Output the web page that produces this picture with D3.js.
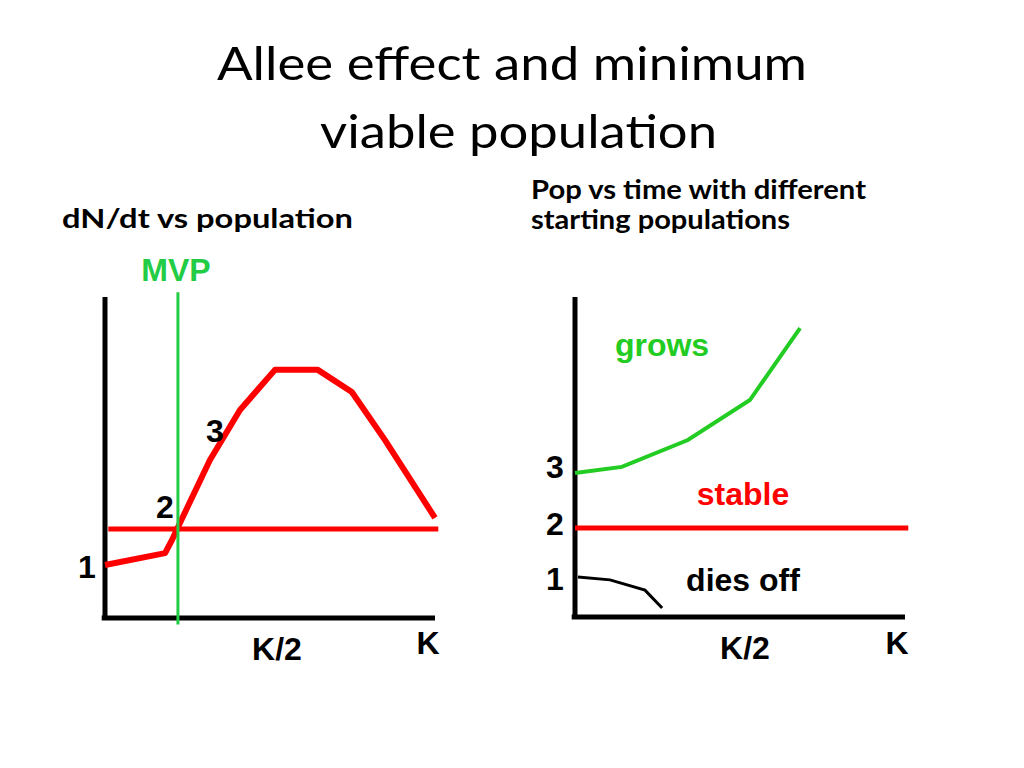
<!DOCTYPE html>
<html><head><meta charset="utf-8">
<script src="https://cdn.jsdelivr.net/npm/d3@7"></script>
<style>body{margin:0;background:#fff}</style>
</head><body>
<svg id="chart" width="1024" height="768"></svg>
<script>
// left panel: dN/dt vs population (x: population 0..100 = K, y: rate)
let rateX = [0, 18.2, 20.3, 22.1, 31.8, 40.9, 51.5, 64.5, 74.8, 84.8, 100];
let rateY = [16.5, 20.2, 24.3, 28.3, 49.2, 64.8, 77.3, 77.3, 70.4, 55.5, 31.2];
let rateZero = 27.7;
let mvpX = 22.1;
// right panel: population vs time
let growsT = [0, 14.2, 34.2, 53, 68.2];
let growsN = [45, 46.9, 55.3, 67.8, 90.3];
let stableN = 27.8;
let diesT = [0.9, 10.6, 21.2, 26.4];
let diesN = [12.5, 11.6, 8.4, 2.8];

let svg = d3.select('#chart');
let font = 'Liberation Sans, Arial, sans-serif';
let titleFont = 'Lato, Open Sans, sans-serif';

function heading(x, y, t, size, weight, len) {
	svg.append('text').attr('x', x).attr('y', y)
		.attr('textLength', len).attr('lengthAdjust', 'spacingAndGlyphs')
		.style('font-family', titleFont).style('font-size', size + 'px')
		.style('font-weight', weight).text(t);
}
heading(217, 80, 'Allee effect and minimum', 46, 'normal', 590);
heading(320, 148, 'viable population', 46, 'normal', 397);
heading(62, 228, 'dN/dt  vs population', 26, 'bold', 291);
heading(531, 199, 'Pop vs time with different', 26, 'bold', 335);
heading(531, 229, 'starting populations', 26, 'bold', 259);

function label(x, y, t, color, size) {
	svg.append('text').attr('x', x).attr('y', y).attr('text-anchor', 'middle')
		.style('font-family', font).style('font-weight', 'bold')
		.style('font-size', (size || 32) + 'px').attr('fill', color || '#000').text(t);
}

let line = d3.line();

// LEFT
let lx = d3.scaleLinear().domain([0, 100]).range([105, 435]);
let ly = d3.scaleLinear().domain([0, 100]).range([618, 297]);
svg.append('path').attr('d', line([[lx(0), ly(0)], [lx(0), ly(100)]])).attr('stroke', '#000').attr('stroke-width', 5);
svg.append('path').attr('d', line([[lx(-1), ly(0)], [lx(100), ly(0)]])).attr('stroke', '#000').attr('stroke-width', 5);
svg.append('path').attr('d', line([[lx(1), ly(rateZero)], [lx(101), ly(rateZero)]])).attr('stroke', '#ff0000').attr('stroke-width', 5);
svg.append('path').attr('d', line(rateX.map((d, i) => [lx(d), ly(rateY[i])])))
	.attr('fill', 'none').attr('stroke', '#ff0000').attr('stroke-width', 6).attr('stroke-linejoin', 'round');
svg.append('path').attr('d', line([[lx(mvpX), ly(101.5)], [lx(mvpX), ly(-2)]])).attr('stroke', '#22cc44').attr('stroke-width', 3);
label(176, 281, 'MVP', '#22cc44');
label(87, 578, '1'); label(165, 518, '2'); label(215, 442, '3');
label(277, 660, 'K/2'); label(428, 654, 'K');

// RIGHT
let rx = d3.scaleLinear().domain([0, 100]).range([575, 905]);
let ry = d3.scaleLinear().domain([0, 100]).range([617, 297]);
svg.append('path').attr('d', line([[rx(0), ry(0)], [rx(0), ry(100)]])).attr('stroke', '#000').attr('stroke-width', 5);
svg.append('path').attr('d', line([[rx(-1), ry(0)], [rx(100), ry(0)]])).attr('stroke', '#000').attr('stroke-width', 5);
svg.append('path').attr('d', line([[rx(0), ry(stableN)], [rx(101), ry(stableN)]])).attr('stroke', '#ff0000').attr('stroke-width', 5);
svg.append('path').attr('d', line(growsT.map((d, i) => [rx(d), ry(growsN[i])])))
	.attr('fill', 'none').attr('stroke', '#22cc22').attr('stroke-width', 4);
svg.append('path').attr('d', line(diesT.map((d, i) => [rx(d), ry(diesN[i])])))
	.attr('fill', 'none').attr('stroke', '#000').attr('stroke-width', 3);
label(555, 478, '3'); label(555, 535, '2'); label(555, 590, '1');
label(662, 356, 'grows', '#22cc22'); label(743, 505, 'stable', '#ff0000'); label(743, 591, 'dies off', '#000');
label(745, 659, 'K/2'); label(897, 654, 'K');
</script>
</body></html>
